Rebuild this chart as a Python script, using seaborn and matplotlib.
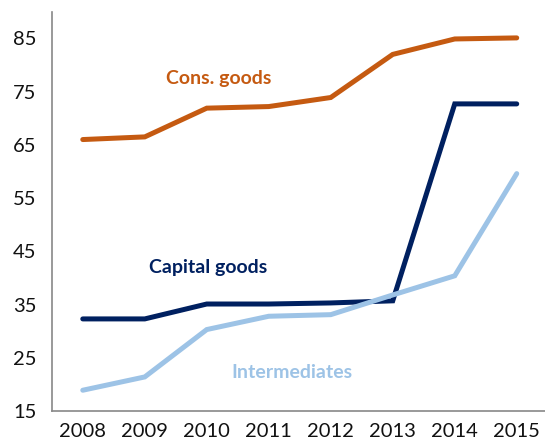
import numpy as np
import pandas as pd
import matplotlib
matplotlib.use("Agg")
import matplotlib.pyplot as plt
import seaborn as sns

years = ["2008", "2009", "2010", "2011", "2012", "2013", "2014", "2015"]
cons_goods = [66.0, 66.5, 71.9, 72.2, 73.9, 82.0, 84.9, 85.1]
capital_goods = [32.3, 32.3, 35.1, 35.1, 35.3, 35.7, 72.7, 72.7]
intermediates = [18.9, 21.4, 30.3, 32.8, 33.1, 36.8, 40.4, 59.6]
series_names = ["Cons. goods", "Capital goods", "Intermediates"]
colors = ["#C55A11", "#002060", "#9DC3E6"]
yticks = [15, 25, 35, 45, 55, 65, 75, 85]

df = pd.DataFrame({
    "idx": list(range(len(years))) * 3,
    "value": cons_goods + capital_goods + intermediates,
    "series": sum([[s] * len(years) for s in series_names], []),
})

sns.set_style("white")
plt.rcParams["font.family"] = ["Lato", "DejaVu Sans"]

fig = plt.figure(figsize=(5.45, 4.46), dpi=100)
ax = fig.add_axes([0.095, 0.0785, 0.91, 0.895])

sns.lineplot(data=df, x="idx", y="value", hue="series", palette=colors,
             hue_order=series_names, linewidth=3.6, ax=ax, legend=False,
             sort=False)
for line in ax.lines:
    line.set_solid_capstyle("round")
    line.set_solid_joinstyle("miter")

ax.set_xlim(-0.5, 7.5)
ax.set_ylim(15, 90)
ax.set_yticks(yticks)
ax.set_yticklabels([str(t) for t in yticks], fontsize=14.5, color="#111111")
ax.set_xticks(range(len(years)))
ax.set_xticklabels(years, fontsize=14.5, color="#111111")
ax.set_xticks(np.arange(-0.5, 7.5, 1.0), minor=True)
ax.tick_params(axis="x", which="major", length=0, pad=9)
ax.tick_params(axis="x", which="minor", length=6, color="#888888", width=1.2)
ax.tick_params(axis="y", which="major", length=7, color="#888888", width=1.2, pad=4)
ax.set_xlabel("")
ax.set_ylabel("")

for side in ["top", "right"]:
    ax.spines[side].set_visible(False)
for side in ["left", "bottom"]:
    ax.spines[side].set_color("#888888")
    ax.spines[side].set_linewidth(1.2)

ax.text(2.2, 77.5, "Cons. goods", color=colors[0], fontsize=14,
        fontweight="bold", ha="center", va="center")
ax.text(2.03, 42.0, "Capital goods", color=colors[1], fontsize=14,
        fontweight="bold", ha="center", va="center")
ax.text(3.37, 22.2, "Intermediates", color=colors[2], fontsize=14,
        fontweight="bold", ha="center", va="center")

fig.savefig("out.png", dpi=100)
